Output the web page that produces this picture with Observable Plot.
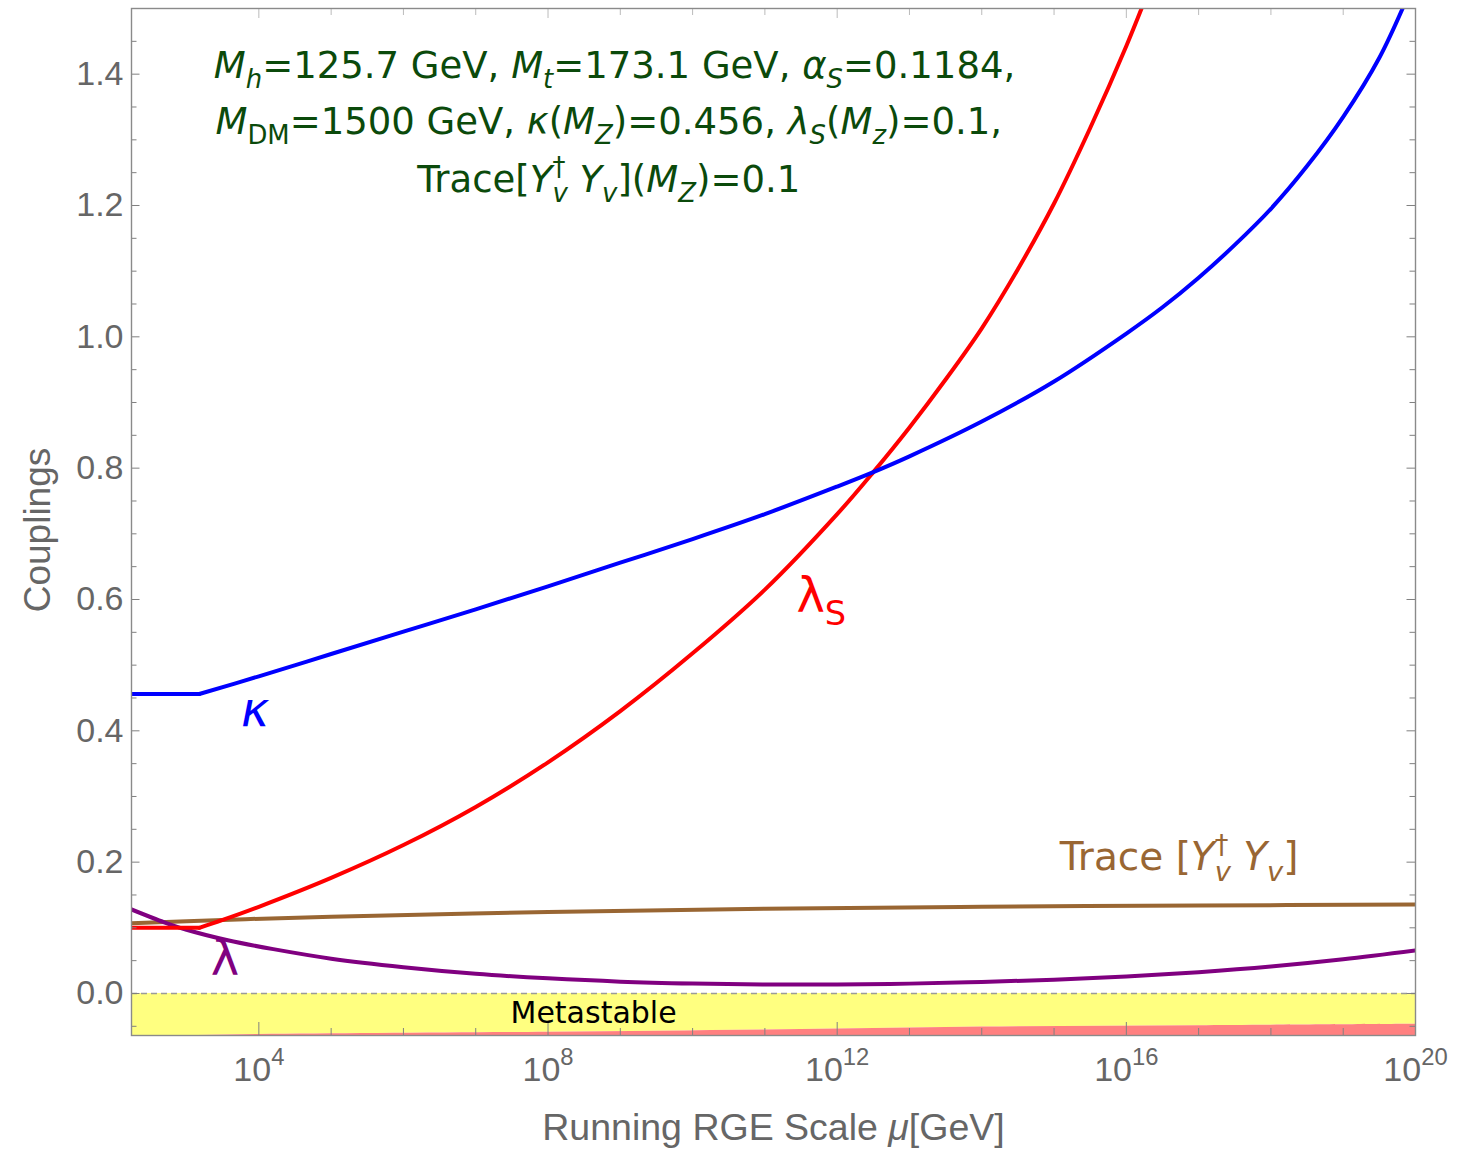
<!DOCTYPE html>
<html>
<head>
<meta charset="utf-8">
<script src="https://cdn.jsdelivr.net/npm/d3@7"></script>
<script src="https://cdn.jsdelivr.net/npm/@observablehq/plot@0.6"></script>
<style>
  html, body { margin: 0; padding: 0; background: #fff; }
</style>
</head>
<body>
<div id="chart"></div>
<script>
// ---------------- data: log10(mu / GeV) and coupling values ----------------
const muMin = 173.1, muMax = 1e20;
const logMDM = 3.176; // M_DM = 1500 GeV threshold

const kappaLogMu = [2.238, 3.176, 4, 5, 6, 7, 8, 9, 10, 11, 12, 12.5, 13, 14, 15, 16, 16.5, 17, 17.5, 18, 18.5, 19, 19.5, 19.9];
const kappaVal   = [0.456, 0.456, 0.483, 0.517, 0.551, 0.585, 0.620, 0.656, 0.692, 0.730, 0.772, 0.794, 0.818, 0.871, 0.932, 1.005, 1.045, 1.09, 1.14, 1.195, 1.26, 1.335, 1.425, 1.52];

const lambdaSLogMu = [2.238, 3.176, 3.5, 4, 5, 6, 7, 8, 9, 10, 11, 12, 12.5, 13, 13.5, 14, 14.5, 15, 15.5, 16, 16.3];
const lambdaSVal   = [0.1, 0.1, 0.112, 0.132, 0.176, 0.226, 0.284, 0.352, 0.43, 0.518, 0.615, 0.73, 0.794, 0.862, 0.935, 1.013, 1.103, 1.203, 1.318, 1.443, 1.525];

const traceLogMu = [2.238, 3.5, 5.0, 8.0, 11.0, 14.0, 17.0, 20.0];
const traceVal   = [0.107, 0.112, 0.117, 0.124, 0.129, 0.132, 0.134, 0.1355];

const lambdaLogMu = [2.238, 2.7, 3.0, 3.57, 4.2, 5, 6, 7, 8, 9, 10, 11, 12, 13, 14, 15, 16, 17, 18, 19, 20];
const lambdaVal   = [0.128, 0.108, 0.097, 0.081, 0.0675, 0.053, 0.040, 0.030, 0.023, 0.018, 0.0152, 0.0138, 0.0138, 0.015, 0.0175, 0.021, 0.026, 0.0325, 0.041, 0.052, 0.0655];

const unstableLogMu = [2.238, 4.0, 8.0, 11.0, 14.0, 17.0, 20.0];
const unstableEdge  = [-0.066, -0.0625, -0.059, -0.0555, -0.051, -0.049, -0.047];

// ticks
const yMajorTicks = [0, 0.2, 0.4, 0.6, 0.8, 1.0, 1.2, 1.4];
const yMinorTicks = [-0.05, 0.05, 0.1, 0.15, 0.25, 0.3, 0.35, 0.45, 0.5, 0.55, 0.65, 0.7, 0.75, 0.85, 0.9, 0.95, 1.05, 1.1, 1.15, 1.25, 1.3, 1.35, 1.45];
const xMajorExp = [4, 8, 12, 16, 20];
const xMinorExp = [5, 6, 7, 9, 10, 11, 13, 14, 15, 17, 18, 19];

// labels (positions in data coordinates: log10 mu, value)
const curveLabels = [
  {key: "@kappa",   logMu: 3.95,  y: 0.431, color: "#0000ff", fs: 48, parts: [{t: "κ", i: 1}]},
  {key: "@lambdaS", logMu: 11.78, y: 0.604, color: "#ff0000", fs: 48, parts: [{t: "λ"}, {t: "S", sub: 1}]},
  {key: "@lambda",  logMu: 3.53,  y: 0.052, color: "#800080", fs: 48, parts: [{t: "λ"}]},
  {key: "@trace",   logMu: 16.73, y: 0.207, color: "#996633", fs: 39, parts: [{t: "Trace ["}, {t: "Y", i: 1}, {t: "†", sup: 1}, {t: "v", i: 1, sub: 1, dx: -0.35}, {t: " "}, {t: "Y", i: 1}, {t: "v", i: 1, sub: 1}, {t: "]"}]},
  {key: "@meta",    logMu: 8.63,  y: -0.031, color: "#000000", fs: 30, parts: [{t: "Metastable"}]}
];
const titleLines = [
  {key: "@t1", logMu: 8.92, y: 1.412, parts: [{t: "M", i: 1}, {t: "h", i: 1, sub: 1}, {t: "=125.7 GeV, "}, {t: "M", i: 1}, {t: "t", i: 1, sub: 1}, {t: "=173.1 GeV, "}, {t: "α", i: 1}, {t: "S", i: 1, sub: 1}, {t: "=0.1184,"}]},
  {key: "@t2", logMu: 8.84, y: 1.327, parts: [{t: "M", i: 1}, {t: "DM", sub: 1}, {t: "=1500 GeV, "}, {t: "κ", i: 1}, {t: "("}, {t: "M", i: 1}, {t: "Z", i: 1, sub: 1}, {t: ")=0.456, "}, {t: "λ", i: 1}, {t: "S", i: 1, sub: 1}, {t: "("}, {t: "M", i: 1}, {t: "z", i: 1, sub: 1}, {t: ")=0.1,"}]},
  {key: "@t3", logMu: 8.84, y: 1.239, parts: [{t: "Trace["}, {t: "Y", i: 1}, {t: "†", sup: 1}, {t: "v", i: 1, sub: 1, dx: -0.35}, {t: " "}, {t: "Y", i: 1}, {t: "v", i: 1, sub: 1}, {t: "]("}, {t: "M", i: 1}, {t: "Z", i: 1, sub: 1}, {t: ")=0.1"}]}
];

// ---------------- build ----------------
const rows = (lx, ly) => lx.map((e, i) => ({mu: Math.pow(10, e), v: ly[i]}));
// split a series at the M_DM threshold so the kink stays sharp
const segRows = (lx, ly) => {
  const out = [];
  lx.forEach((e, i) => {
    const p = {mu: Math.pow(10, e), v: ly[i]};
    if (e <= logMDM + 1e-9) out.push({...p, seg: 0});
    if (e >= logMDM - 1e-9) out.push({...p, seg: 1});
  });
  return out;
};
const kappa = segRows(kappaLogMu, kappaVal);
const lambdaS = segRows(lambdaSLogMu, lambdaSVal);
const trace = rows(traceLogMu, traceVal);
const lambda = rows(lambdaLogMu, lambdaVal);
const unstable = rows(unstableLogMu, unstableEdge);

const W = 1461, H = 1161, ML = 131, MR = 46, MT = 8, MB = 126;
const PW = W - ML - MR, PH = H - MT - MB;
const tickColor = "#808080";
const textGray = "#666666";

const line = (data, color, z) => Plot.line(data, {x: "mu", y: "v", z, stroke: color, strokeWidth: 4, curve: "catmull-rom", clip: true});
const label = (s, fam, fill) => Plot.text([s], {x: d => Math.pow(10, d.logMu), y: d => d.y, text: d => d.key, fill, fontSize: s.fs, fontFamily: fam});

const chart = Plot.plot({
  width: W, height: H,
  marginLeft: ML, marginRight: MR, marginTop: MT, marginBottom: MB,
  style: {background: "#fff", fontFamily: "'Liberation Sans', Arial, sans-serif"},
  x: {type: "log", domain: [muMin, muMax], axis: null},
  y: {domain: [-0.064, 1.5], axis: null},
  marks: [
    Plot.areaY(unstable, {x: "mu", y1: 0, y2: "v", fill: "#ffff80", curve: "catmull-rom", clip: true}),
    Plot.areaY(unstable, {x: "mu", y1: "v", y2: -0.2, fill: "#ff8080", curve: "catmull-rom", clip: true}),
    Plot.ruleY([0], {stroke: "#9a9a9a", strokeWidth: 1.4, strokeDasharray: "6,4"}),
    line(trace, "#996633"),
    line(lambda, "#800080"),
    line(lambdaS, "#ff0000", "seg"),
    line(kappa, "#0000ff", "seg"),
    // inward ticks (left, right, bottom, top)
    Plot.ruleY(yMinorTicks, {y: d => d, insetRight: PW - 5.5, stroke: tickColor}),
    Plot.ruleY(yMajorTicks, {y: d => d, insetRight: PW - 8.5, stroke: tickColor}),
    Plot.ruleY(yMinorTicks, {y: d => d, insetLeft: PW - 5.5, stroke: tickColor}),
    Plot.ruleY(yMajorTicks, {y: d => d, insetLeft: PW - 8.5, stroke: tickColor}),
    Plot.ruleX(xMinorExp, {x: d => Math.pow(10, d), insetTop: PH - 7, stroke: tickColor}),
    Plot.ruleX(xMajorExp.slice(0, -1), {x: d => Math.pow(10, d), insetTop: PH - 13, stroke: tickColor}),
    Plot.ruleX(xMinorExp, {x: d => Math.pow(10, d), insetBottom: PH - 7, stroke: "#bbbbbb"}),
    Plot.ruleX(xMajorExp.slice(0, -1), {x: d => Math.pow(10, d), insetBottom: PH - 10, stroke: "#bbbbbb"}),
    Plot.frame({stroke: "#8a8a8a", strokeWidth: 1.4}),
    // tick labels
    Plot.axisY(yMajorTicks, {anchor: "left", tickSize: 0, tickPadding: 8, fontSize: 34, color: textGray, tickFormat: d => d.toFixed(1), label: null}),
    Plot.axisX(xMajorExp.map(e => Math.pow(10, e)), {anchor: "bottom", tickSize: 0, tickPadding: 21, fontSize: 34, color: textGray, tickFormat: d => String(Math.round(Math.log10(d))), label: null}),
    // axis titles
    Plot.text(["Couplings"], {frameAnchor: "left", textAnchor: "middle", rotate: -90, dx: -93, dy: 8, fontSize: 37, fill: textGray}),
    Plot.text(["@xlabel"], {frameAnchor: "bottom", textAnchor: "middle", dy: 104, fontSize: 37.5, fill: textGray}),
    // curve labels and title
    ...curveLabels.map(s => label(s, "DejaVu Sans", s.color)),
    ...titleLines.map(s => label({...s, fs: 37}, "DejaVu Sans", "#0b4a0b"))
  ]
});
document.getElementById("chart").appendChild(chart);

// ---------------- rich text (italics, sub/superscripts) ----------------
const NS = "http://www.w3.org/2000/svg";
function rich(el, parts, fs) {
  el.textContent = "";
  let cur = 0;
  for (const p of parts) {
    const ts = document.createElementNS(NS, "tspan");
    const target = p.sub ? 0.27 * fs : p.sup ? -0.42 * fs : 0;
    if (target !== cur) ts.setAttribute("dy", (target - cur).toFixed(2));
    cur = target;
    if (p.dx) ts.setAttribute("dx", (p.dx * fs).toFixed(2));
    if (p.sub || p.sup) ts.setAttribute("font-size", (0.7 * fs).toFixed(2));
    if (p.i) ts.setAttribute("font-style", "italic");
    ts.textContent = p.t;
    el.appendChild(ts);
  }
}
const allText = Array.from(chart.querySelectorAll("text"));
const byKey = k => allText.find(t => t.textContent === k);
for (const s of curveLabels) { const el = byKey(s.key); if (el) rich(el, s.parts, s.fs); }
for (const s of titleLines) { const el = byKey(s.key); if (el) rich(el, s.parts, 37); }
{
  const el = byKey("@xlabel");
  if (el) rich(el, [{t: "Running RGE Scale "}, {t: "μ", i: 1}, {t: "[GeV]"}], 37.5);
}
// x tick labels: 10^k
chart.querySelectorAll('g[aria-label="x-axis tick label"] text').forEach(t => {
  const k = t.textContent;
  t.textContent = "";
  const a = document.createElementNS(NS, "tspan"); a.textContent = "10";
  const b = document.createElementNS(NS, "tspan"); b.textContent = k;
  b.setAttribute("dy", (-0.45 * 34).toFixed(1)); b.setAttribute("font-size", (0.7 * 34).toFixed(1));
  t.appendChild(a); t.appendChild(b);
});
</script>
</body>
</html>
